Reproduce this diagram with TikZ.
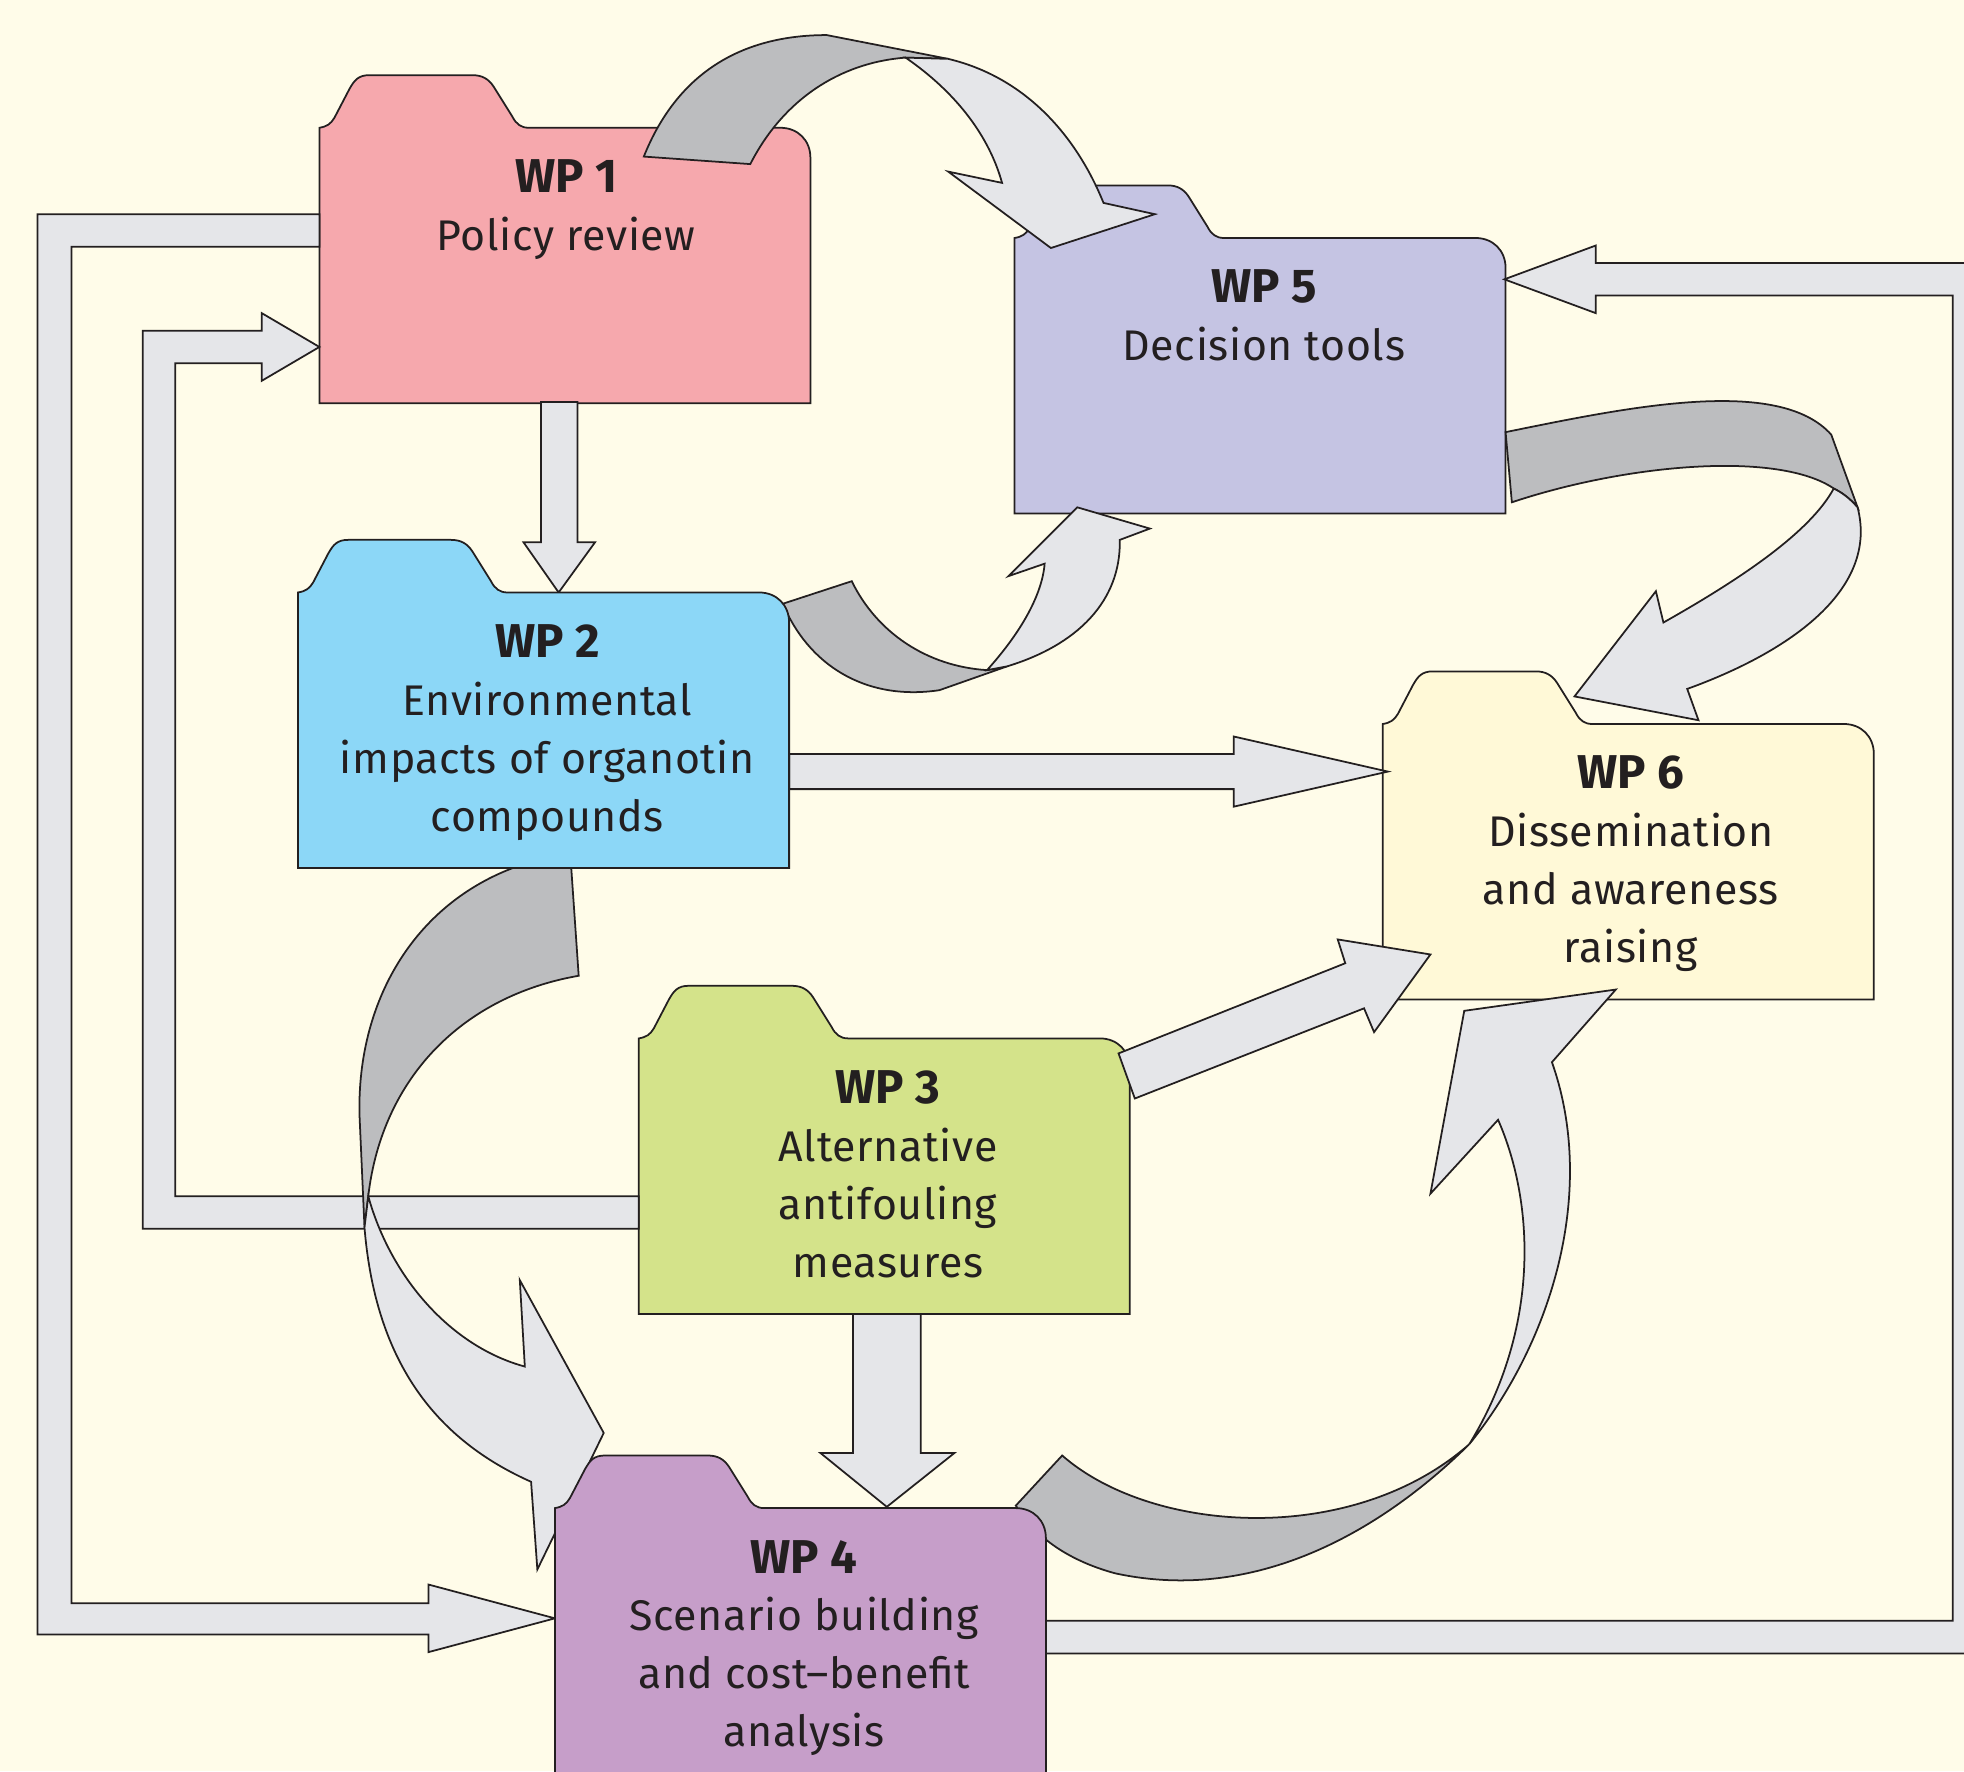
\documentclass[tikz,border=0pt]{standalone}
\usepackage{fontspec}
\setmainfont{Fira Sans}
\newfontfamily\bodyfont[LetterSpace=1.5]{Fira Sans}
\usepackage{xcolor}
\usepackage{tikz}

\definecolor{paper}{RGB}{255,252,233}
\definecolor{ink}{RGB}{35,31,32}
\definecolor{wpone}{RGB}{246,168,173}
\definecolor{wptwo}{RGB}{140,215,247}
\definecolor{wpthree}{RGB}{212,227,138}
\definecolor{wpfour}{RGB}{198,158,201}
\definecolor{wpfive}{RGB}{197,196,227}
\definecolor{wpsix}{RGB}{255,249,215}
\definecolor{bandlight}{RGB}{229,230,233}
\definecolor{banddark}{RGB}{188,189,191}

\newcommand{\wphead}[1]{{\setmainfont{Fira Sans}\bfseries\fontsize{13.5}{16.5}\selectfont #1}}

\begin{document}
\begin{tikzpicture}[x=0.012526cm, y=-0.012526cm,
  folder/.style={draw=ink, line width=0.5pt},
  band/.style={draw=ink, fill=bandlight, line width=0.5pt},
  twist/.style={draw=ink, fill=banddark, line width=0.5pt},
  wplabel/.style={anchor=north, align=center, inner sep=0pt, text=ink, font=\bodyfont\fontsize{12.2}{16.5}\selectfont}]

\useasboundingbox (0,0) rectangle (1568,1414);
\clip (0,0) rectangle (1568,1414);
\fill[paper] (0,0) rectangle (1568,1414);

\begin{scope}[shift={(255,102)}]
\draw[folder, fill=wpone] (0,220) -- (0,0) .. controls (6,-1) and (9,-3) .. (12,-8) -- (24,-31) .. controls (28,-38) and (31,-42) .. (40,-42) -- (122,-42) .. controls (130,-42) and (135,-39) .. (139,-33) -- (154,-9) .. controls (157,-3) and (161,0) .. (167,0) -- (368,0) .. controls (382,0) and (392,10) .. (392,24) -- (392,220) -- cycle;
\node[wplabel] (wp1) at (197,25) {\wphead{WP 1}\\Policy review};
\end{scope}

\begin{scope}[shift={(810,190)}]
\draw[folder, fill=wpfive] (0,220) -- (0,0) .. controls (6,-1) and (9,-3) .. (12,-8) -- (24,-31) .. controls (28,-38) and (31,-42) .. (40,-42) -- (122,-42) .. controls (130,-42) and (135,-39) .. (139,-33) -- (154,-9) .. controls (157,-3) and (161,0) .. (167,0) -- (368,0) .. controls (382,0) and (392,10) .. (392,24) -- (392,220) -- cycle;
\node[wplabel] (wp5) at (199,25) {\wphead{WP 5}\\Decision tools};
\end{scope}

\begin{scope}[shift={(1104,578)}]
\draw[folder, fill=wpsix] (0,220) -- (0,0) .. controls (6,-1) and (9,-3) .. (12,-8) -- (24,-31) .. controls (28,-38) and (31,-42) .. (40,-42) -- (122,-42) .. controls (130,-42) and (135,-39) .. (139,-33) -- (154,-9) .. controls (157,-3) and (161,0) .. (167,0) -- (368,0) .. controls (382,0) and (392,10) .. (392,24) -- (392,220) -- cycle;
\node[wplabel] (wp6) at (198,25) {\wphead{WP 6}\\Dissemination\\and awareness\\raising};
\end{scope}

\begin{scope}[shift={(510,829)}]
\draw[folder, fill=wpthree] (0,220) -- (0,0) .. controls (6,-1) and (9,-3) .. (12,-8) -- (24,-31) .. controls (28,-38) and (31,-42) .. (40,-42) -- (122,-42) .. controls (130,-42) and (135,-39) .. (139,-33) -- (154,-9) .. controls (157,-3) and (161,0) .. (167,0) -- (368,0) .. controls (382,0) and (392,10) .. (392,24) -- (392,220) -- cycle;
\node[wplabel] (wp3) at (199,25) {\wphead{WP 3}\\Alternative\\antifouling\\measures};
\end{scope}

\draw[band] (432,321) -- (432,433) -- (418,433) -- (446,473) -- (475,433) -- (461,433) -- (461,321) -- cycle;
\draw[band] (630,602) -- (985,602) -- (985,588) -- (1108,616) -- (985,644) -- (985,630) -- (630,630) -- cycle;
\draw[band] (681,1049) -- (681,1160) -- (655,1160) -- (708,1203) -- (762,1160) -- (735,1160) -- (735,1049) -- cycle;
\draw[band] (893,841) -- (1074,769) -- (1068,750) -- (1142,762) -- (1097,824) -- (1089,805) -- (906,877) -- cycle;

\draw[band] (510,955) -- (140,955) -- (140,290) -- (209,290) -- (209,304) -- (255,277) -- (209,250) -- (209,264) -- (114,264) -- (114,981) -- (510,981) -- cycle;
\draw[band] (255,171) -- (30,171) -- (30,1305) -- (342,1305) -- (342,1319) -- (443,1292) -- (342,1265) -- (342,1280) -- (57,1280) -- (57,197) -- (255,197) -- cycle;
\draw[band] (835,1294) -- (1559,1294) -- (1559,236) -- (1274,236) -- (1274,250) -- (1201,223) -- (1274,196) -- (1274,210) -- (1600,210) -- (1600,1320) -- (835,1320) -- cycle;

\draw[twist] (514,125) .. controls (540,60) and (590,28) .. (660,28) -- (757,47) -- (723,46) .. controls (670,50) and (625,80) .. (599,131) -- cycle;
\draw[band] (723,46) .. controls (765,75) and (790,110) .. (800,146) -- (757,137) -- (839,198) -- (922,171) -- (881,162) .. controls (860,110) and (820,62) .. (757,47) -- cycle;

\draw[twist] (625,482) .. controls (645,530) and (690,560) .. (750,551) -- (804,532) -- (788,535) .. controls (740,532) and (700,505) .. (680,464) -- cycle;
\draw[band] (788,535) .. controls (815,505) and (832,475) .. (834,450) -- (805,460) -- (860,405) -- (918,422) -- (894,431) .. controls (895,480) and (860,515) .. (804,532) -- cycle;

\draw[twist] (1202,345) .. controls (1300,325) and (1420,300) .. (1462,347) -- (1483,405) .. controls (1476,397) and (1470,393) .. (1464,390) .. controls (1420,360) and (1300,370) .. (1207,401) -- cycle;
\draw[band] (1464,390) .. controls (1470,393) and (1476,397) .. (1483,405) .. controls (1500,470) and (1430,520) .. (1347,550) -- (1356,575) -- (1257,556) -- (1322,472) -- (1328,497) .. controls (1390,462) and (1445,425) .. (1464,390) -- cycle;

\draw[twist] (412,692) -- (456,692) -- (462,779) .. controls (370,795) and (305,860) .. (294,955) -- (291,980) -- (287,890) .. controls (285,800) and (330,722) .. (412,692) -- cycle;
\draw[band] (294,955) .. controls (312,1020) and (360,1075) .. (419,1091) -- (415,1022) -- (482,1144) -- (429,1253) -- (424,1183) .. controls (350,1150) and (300,1090) .. (291,980) -- cycle;

\draw[twist] (811,1202) -- (848,1162) .. controls (920,1225) and (1080,1235) .. (1173,1153) .. controls (1100,1225) and (1000,1280) .. (890,1256) .. controls (850,1245) and (825,1225) .. (811,1202) -- cycle;
\draw[band] (1173,1153) .. controls (1240,1070) and (1275,950) .. (1239,848) -- (1290,790) -- (1169,807) -- (1142,953) -- (1196,894) .. controls (1225,960) and (1230,1060) .. (1173,1153) -- cycle;

\begin{scope}[shift={(238,473)}]
\draw[folder, fill=wptwo] (0,220) -- (0,0) .. controls (6,-1) and (9,-3) .. (12,-8) -- (24,-31) .. controls (28,-38) and (31,-42) .. (40,-42) -- (122,-42) .. controls (130,-42) and (135,-39) .. (139,-33) -- (154,-9) .. controls (157,-3) and (161,0) .. (167,0) -- (368,0) .. controls (382,0) and (392,10) .. (392,24) -- (392,220) -- cycle;
\node[wplabel] (wp2) at (199,25) {\wphead{WP 2}\\Environmental\\impacts of organotin\\compounds};
\end{scope}

\begin{scope}[shift={(443,1204)}]
\draw[folder, fill=wpfour] (0,220) -- (0,0) .. controls (6,-1) and (9,-3) .. (12,-8) -- (24,-31) .. controls (28,-38) and (31,-42) .. (40,-42) -- (122,-42) .. controls (130,-42) and (135,-39) .. (139,-33) -- (154,-9) .. controls (157,-3) and (161,0) .. (167,0) -- (368,0) .. controls (382,0) and (392,10) .. (392,24) -- (392,220) -- cycle;
\node[wplabel] (wp4) at (199,25) {\wphead{WP 4}\\Scenario building\\and cost–benefit\\analysis};
\end{scope}

\end{tikzpicture}
\end{document}
